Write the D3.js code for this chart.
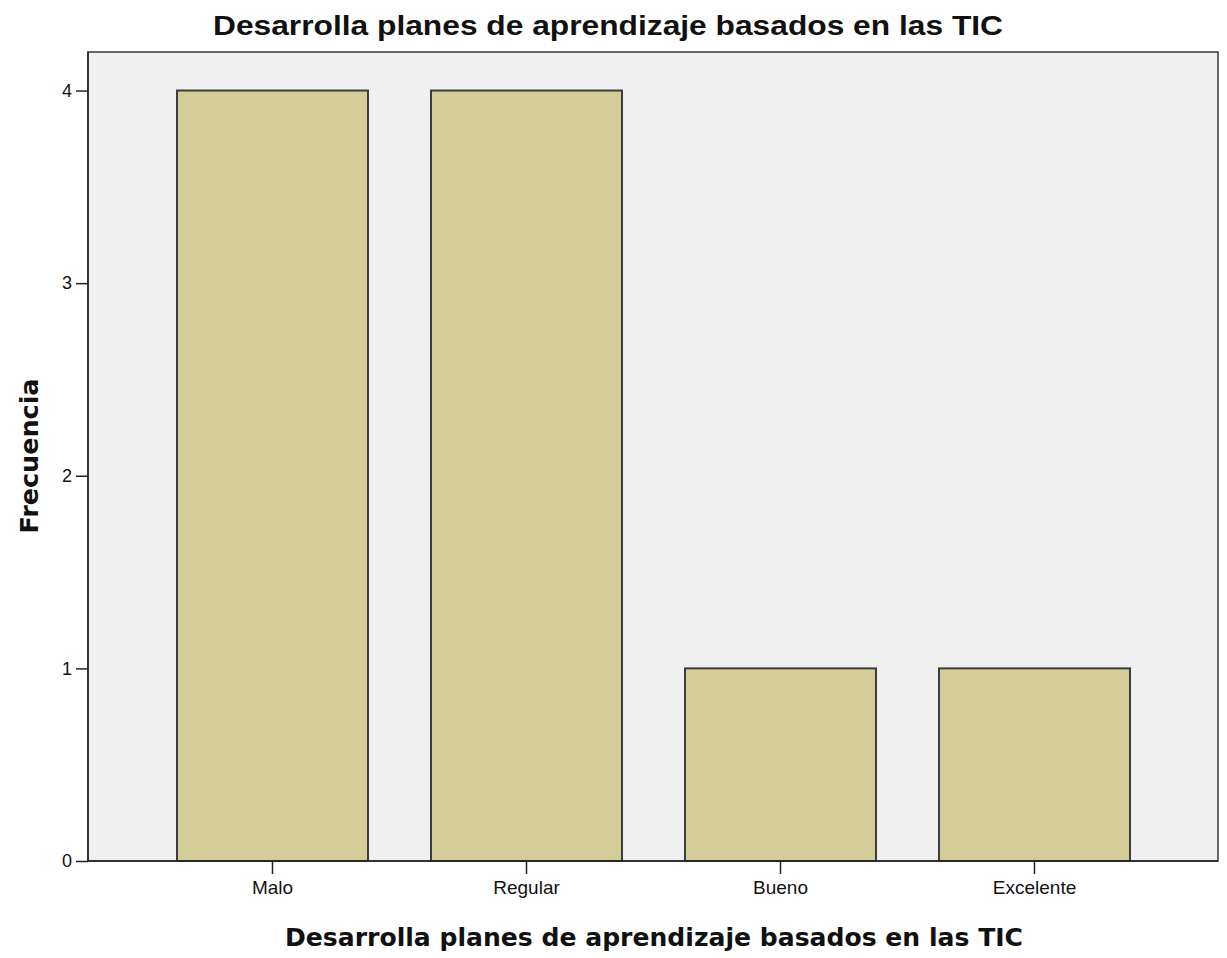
<!DOCTYPE html>
<html><head><meta charset="utf-8">
<script src="https://cdn.jsdelivr.net/npm/d3@7"></script>
<style>body{margin:0;background:#fff}svg{display:block}</style>
</head><body>
<svg id="c" width="1227" height="958"></svg>
<script>
const categories = ["Malo", "Regular", "Bueno", "Excelente"];
const values = [4, 4, 1, 1];
const yTicks = [0, 1, 2, 3, 4];
const title = "Desarrolla planes de aprendizaje basados en las TIC";
const xTitle = "Desarrolla planes de aprendizaje basados en las TIC";
const yTitle = "Frecuencia";

const svg = d3.select("#c");
const L = 88, R = 1218, T = 52, B = 861;

const x = d3.scaleBand().domain(categories).range([145.5, 1161.5]).paddingInner(0.248).paddingOuter(0.124);
const y = d3.scaleLinear().domain([0, 4.2]).range([B, T]);

svg.append("rect").attr("x", L).attr("y", T).attr("width", R - L).attr("height", B - T)
  .attr("fill", "#f0f0f0").attr("stroke", "#3a3a3a").attr("stroke-width", 1.5);

svg.append("g").selectAll("rect").data(values).join("rect")
  .attr("x", (d, i) => x(categories[i]))
  .attr("y", d => y(d))
  .attr("width", x.bandwidth())
  .attr("height", d => B - y(d))
  .attr("fill", "#d3cd97").attr("stroke", "#3c3c3c").attr("stroke-width", 2);

const yAxis = svg.append("g").attr("transform", `translate(${L},0)`)
  .call(d3.axisLeft(y).tickValues(yTicks).tickFormat(d3.format("d")).tickSize(12).tickSizeOuter(0).tickPadding(4));
const xAxis = svg.append("g").attr("transform", `translate(0,${B})`)
  .call(d3.axisBottom(x).tickSize(13).tickSizeOuter(0).tickPadding(7));
[yAxis, xAxis].forEach(g => {
  g.select(".domain").remove();
  g.selectAll(".tick line").attr("stroke", "#222").attr("stroke-width", 1.5);
  g.selectAll("text").attr("fill", "#111").style("font-family", "'Liberation Sans', Arial, sans-serif").style("font-size", "18px");
});
xAxis.selectAll("text").style("font-size", "19px");
svg.append("line").attr("x1", L).attr("x2", L).attr("y1", T).attr("y2", B).attr("stroke", "#222").attr("stroke-width", 1.5);
svg.append("line").attr("x1", L).attr("x2", R).attr("y1", B).attr("y2", B).attr("stroke", "#222").attr("stroke-width", 1.5);

svg.append("text").attr("x", 608).attr("y", 35).attr("text-anchor", "middle")
  .attr("textLength", 790).attr("lengthAdjust", "spacingAndGlyphs")
  .style("font-family", "'Liberation Sans', Arial, sans-serif").style("font-weight", "bold").style("font-size", "27px")
  .attr("fill", "#111").text(title);

svg.append("text").attr("x", 654).attr("y", 946).attr("text-anchor", "middle")
  .attr("textLength", 738).attr("lengthAdjust", "spacingAndGlyphs")
  .style("font-family", "'DejaVu Sans', sans-serif").style("font-weight", "bold").style("font-size", "24px")
  .attr("fill", "#111").text(xTitle);

svg.append("text").attr("transform", "translate(38,456) rotate(-90)").attr("text-anchor", "middle")
  .attr("textLength", 155).attr("lengthAdjust", "spacingAndGlyphs")
  .style("font-family", "'DejaVu Sans', sans-serif").style("font-weight", "bold").style("font-size", "24px")
  .attr("fill", "#111").text(yTitle);
</script>
</body></html>
